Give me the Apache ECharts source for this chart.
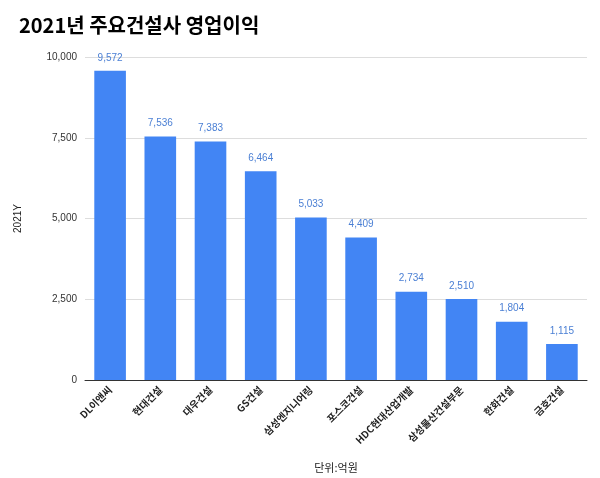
<!DOCTYPE html><html><head><meta charset="utf-8"><script src="https://cdn.jsdelivr.net/npm/echarts@6/dist/echarts.min.js"></script></head><body style="margin:0"><div id="c" style="width:600px;height:478px"></div><script>
const categories=['DL이앤씨','현대건설','대우건설','GS건설','삼성엔지니어링','포스코건설','HDC현대산업개발','삼성물산건설부문','한화건설','금호건설'];
const values=[9572,7536,7383,6464,5033,4409,2734,2510,1804,1115];
const chart=echarts.init(document.getElementById('c'));
chart.setOption({
title:{text:'2021년 주요건설사 영업이익',left:14,top:10,textStyle:{fontSize:20,fontWeight:'bold',color:'#000',fontFamily:'Noto Sans CJK KR'}},
grid:{left:85,right:13,top:57,bottom:96},
xAxis:{type:'category',data:categories,name:'단위:억원',nameLocation:'middle',nameGap:82,nameTextStyle:{color:'#222',fontSize:11,fontFamily:'Noto Sans CJK KR'},
axisTick:{show:false},axisLine:{lineStyle:{color:'#333'}},axisLabel:{rotate:45,interval:0,fontWeight:'bold',fontSize:10,color:'#222',fontFamily:'Noto Sans CJK KR'}},
yAxis:{type:'value',min:0,max:10000,interval:2500,name:'2021Y',nameLocation:'middle',nameGap:62,nameTextStyle:{color:'#222',fontSize:10},
axisLabel:{fontSize:10,color:'#333',formatter:v=>v.toLocaleString('en-US')},splitLine:{lineStyle:{color:'#ddd'}}},
series:[{type:'bar',data:values,barCategoryGap:'37%',itemStyle:{color:'#4285f4'},
label:{show:true,position:'top',distance:8,fontSize:10,color:'#4a7fd4',formatter:p=>p.value.toLocaleString('en-US')}}]
});
</script></body></html>
